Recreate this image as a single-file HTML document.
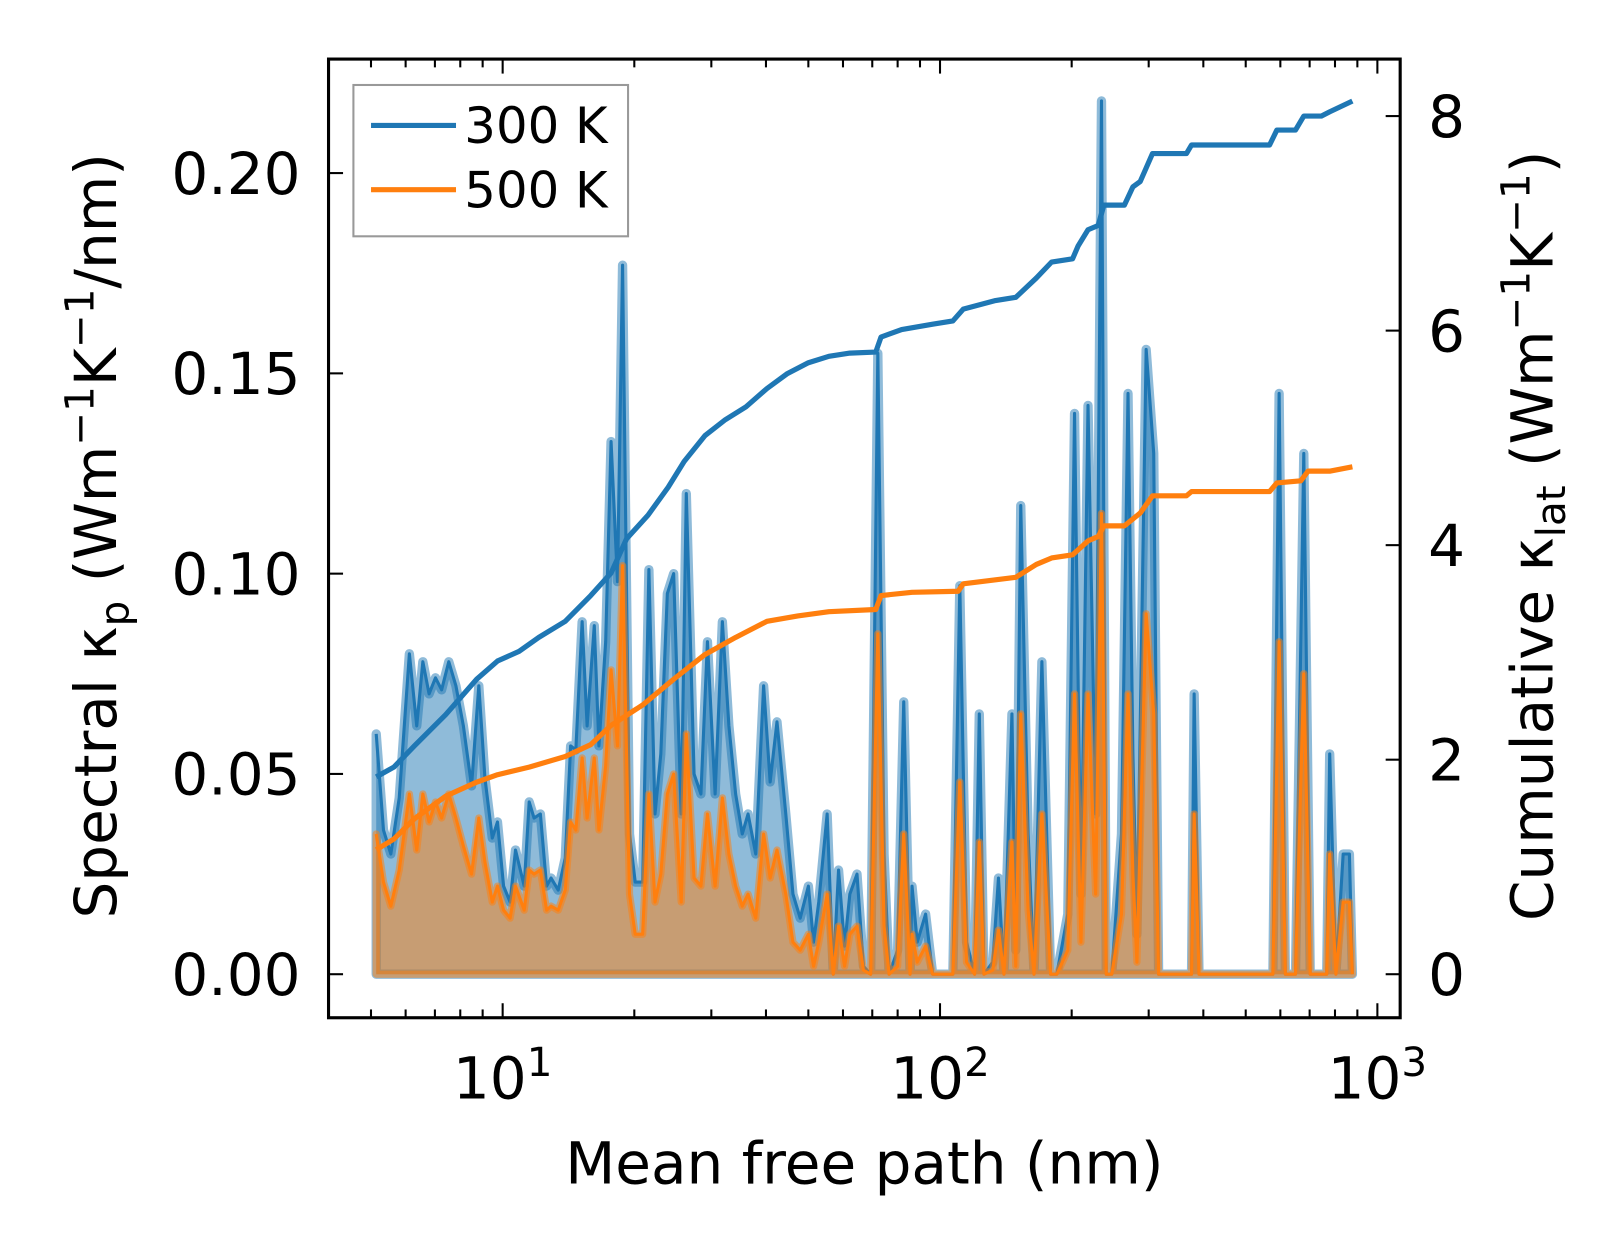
<!DOCTYPE html>
<html><head><meta charset="utf-8"><style>
body{margin:0;background:#fff}
svg{display:block;font-family:"DejaVu Sans","Liberation Sans",sans-serif}
</style></head><body>
<svg id="chart" width="1623" height="1254" viewBox="0 0 1623 1254" xmlns="http://www.w3.org/2000/svg">
<rect width="1623" height="1254" fill="#fff"/>
<g id="plot" transform="scale(1.0364)"></g>
</svg>
<script>
const mfp = [5.14,5.34,5.55,5.80,6.12,6.36,6.57,6.79,7.02,7.25,7.53,7.82,8.13,8.49,8.82,9.11,9.47,9.73,10.05,10.4,10.7,11.2,11.5,11.8,12.2,12.6,12.9,13.4,13.9,14.3,14.7,15.2,15.6,16.2,16.6,17.2,17.7,18.3,18.8,19.5,20.1,20.9,21.6,22.3,23.0,23.8,24.6,25.6,26.3,27.4,28.4,29.4,30.6,31.8,32.9,34.1,35.3,36.4,37.9,39.5,40.9,42.4,44.4,46.1,47.9,50.0,51.4,52.8,55.2,57.0,58.6,60.5,62.2,64.6,66.8,69.4,72.1,74.5,76.5,80.0,82.6,85.4,86.3,88.7,92.7,96.2,107,111,115,120,123,126,132,136,140,146,149,153,159,164,171,179,185,196,203,210,218,227,234,240,247,260,269,276,282,296,308,316,338,376,381,391,420,552,577,596,616,650,679,702,766,778,804,835,863,877];
const spec300 = [0.060,0.036,0.030,0.044,0.080,0.062,0.078,0.070,0.074,0.071,0.078,0.072,0.062,0.047,0.072,0.049,0.034,0.038,0.022,0.018,0.031,0.022,0.043,0.039,0.040,0.022,0.024,0.021,0.029,0.057,0.056,0.088,0.062,0.087,0.057,0.083,0.133,0.098,0.177,0.035,0.023,0.023,0.101,0.040,0.055,0.095,0.100,0.040,0.120,0.050,0.045,0.083,0.045,0.088,0.062,0.045,0.035,0.040,0.030,0.072,0.048,0.063,0.040,0.020,0.014,0.022,0.008,0.018,0.040,0.000,0.026,0.007,0.020,0.025,0.002,0.000,0.155,0.030,0.000,0.006,0.068,0.000,0.022,0.008,0.015,0.000,0.000,0.097,0.008,0.000,0.065,0.000,0.003,0.024,0.000,0.065,0.006,0.117,0.035,0.000,0.078,0.000,0.000,0.015,0.140,0.020,0.142,0.040,0.218,0.000,0.000,0.035,0.145,0.055,0.010,0.156,0.130,0.000,0.000,0.000,0.070,0.000,0.000,0.000,0.000,0.145,0.000,0.000,0.130,0.000,0.000,0.055,0.000,0.030,0.030,0.000];
const spec500 = [0.035,0.023,0.017,0.026,0.045,0.031,0.045,0.038,0.043,0.039,0.045,0.039,0.032,0.025,0.039,0.028,0.018,0.022,0.016,0.014,0.022,0.016,0.026,0.025,0.026,0.016,0.017,0.016,0.021,0.038,0.036,0.054,0.039,0.054,0.036,0.052,0.076,0.057,0.102,0.020,0.010,0.010,0.045,0.018,0.025,0.045,0.050,0.018,0.060,0.024,0.022,0.040,0.022,0.044,0.030,0.022,0.017,0.020,0.014,0.035,0.024,0.031,0.020,0.008,0.006,0.010,0.002,0.008,0.020,0.000,0.012,0.002,0.010,0.012,0.001,0.000,0.085,0.012,0.000,0.002,0.035,0.000,0.010,0.003,0.007,0.000,0.000,0.048,0.003,0.000,0.033,0.000,0.001,0.011,0.000,0.033,0.002,0.065,0.016,0.000,0.040,0.000,0.000,0.006,0.070,0.008,0.070,0.020,0.115,0.000,0.000,0.015,0.070,0.025,0.003,0.090,0.065,0.000,0.000,0.000,0.040,0.000,0.000,0.000,0.000,0.083,0.000,0.000,0.075,0.000,0.000,0.030,0.000,0.018,0.018,0.000];
const cumX300 = [5.14,5.64,6.29,7.41,8.72,9.73,10.9,12.1,13.9,15.9,17.7,19.2,21.5,23.9,26.0,29.0,32.3,36.0,40.2,44.8,50.0,55.7,62.2,71.3,73.3,81.7,96.2,107,113,134,149,166,180,201,207,218,230,237,264,276,287,306,366,376,567,589,650,679,745,778,877];
const cum300 = [1.84,1.93,2.13,2.42,2.75,2.92,3.01,3.14,3.29,3.53,3.74,4.06,4.28,4.54,4.78,5.02,5.17,5.29,5.46,5.60,5.70,5.76,5.79,5.80,5.94,6.01,6.06,6.09,6.20,6.28,6.31,6.49,6.64,6.67,6.79,6.94,6.98,7.17,7.17,7.34,7.39,7.65,7.65,7.73,7.73,7.87,7.87,8.00,8.00,8.04,8.14];
const cumX500 = [5.14,5.64,6.29,7.41,8.72,9.73,11.5,13.9,15.9,17.7,20.9,24.6,29.0,34.1,40.2,47.3,55.7,71.3,73.3,86.3,110,113,149,166,180,201,218,230,237,264,287,306,366,376,567,589,668,694,778,877];
const cum500 = [1.16,1.26,1.45,1.66,1.79,1.86,1.93,2.03,2.14,2.32,2.51,2.75,2.98,3.14,3.29,3.34,3.38,3.40,3.53,3.56,3.57,3.64,3.70,3.82,3.88,3.91,4.04,4.08,4.18,4.18,4.30,4.46,4.46,4.50,4.50,4.58,4.60,4.69,4.69,4.73];
const xTicks = [10,100,1000];
const yTicksL = [0,0.05,0.10,0.15,0.20];
const yTickLabelsL = ["0.00","0.05","0.10","0.15","0.20"];
const yTicksR = [0,2,4,6,8];

const L=317,R=1351,T=57,B=982;
const X = v => 485 + (Math.log10(v)-1)*422;
const YL = v => 940 - v*3865;
const YR = v => 940 - v*103.5;
const NS="http://www.w3.org/2000/svg";
const g=document.getElementById('plot');
function mk(tag,attrs,parent){const e=document.createElementNS(NS,tag);for(const k in attrs)e.setAttribute(k,attrs[k]);(parent||g).appendChild(e);return e;}
const defs=mk('defs',{});
const cp=mk('clipPath',{id:'clip'},defs);mk('rect',{x:L,y:T,width:R-L,height:B-T},cp);
const area=mk('g',{'clip-path':'url(#clip)'});

function linePts(xs,ys,fy){return xs.map((x,i)=>X(x).toFixed(1)+','+fy(ys[i]).toFixed(1)).join(' ');}
function areaPts(xs,ys){return X(xs[0]).toFixed(1)+','+YL(0)+' '+linePts(xs,ys,YL)+' '+X(xs[xs.length-1]).toFixed(1)+','+YL(0);}

let e;
e=mk('polygon',{points:areaPts(mfp,spec300),fill:'#1f77b4','fill-opacity':0.5,stroke:'#1f77b4','stroke-opacity':0.5,'stroke-width':9,'stroke-linejoin':'round'},area);

e=mk('polyline',{points:linePts(mfp,spec300,YL),fill:'none',stroke:'#1f77b4','stroke-width':3,'stroke-linejoin':'round'},area);

e=mk('polygon',{points:areaPts(mfp,spec500),fill:'#ff7f0e','fill-opacity':0.5,stroke:'#ff7f0e','stroke-opacity':0.5,'stroke-width':7,'stroke-linejoin':'round'},area);

e=mk('polyline',{points:linePts(mfp,spec500,YL),fill:'none',stroke:'#ff7f0e','stroke-width':3,'stroke-linejoin':'round'},area);

e=mk('polyline',{points:linePts(cumX300,cum300,YR),fill:'none',stroke:'#1f77b4','stroke-width':5,'stroke-linejoin':'round'},area);

e=mk('polyline',{points:linePts(cumX500,cum500,YR),fill:'none',stroke:'#ff7f0e','stroke-width':5,'stroke-linejoin':'round'},area);


e=mk('rect',{x:L,y:T,width:R-L,height:B-T,fill:'none',stroke:'#000','stroke-width':3});


const fs=56;
for(let d=0; d<4; d++){const base=Math.pow(10,d);
  for(let m=1;m<10;m++){const v=base*m; const px=X(v); if(px<L||px>R)continue;
    const len = m===1?14:8;
    mk('line',{x1:px,y1:B,x2:px,y2:B-len,stroke:'#000','stroke-width':2});
    mk('line',{x1:px,y1:T,x2:px,y2:T+len,stroke:'#000','stroke-width':2});
  }}
xTicks.forEach(v=>{const px=X(v);const exp=Math.round(Math.log10(v));
  e=mk('text',{x:px,y:1060,'font-size':fs,'text-anchor':'middle'});
  
  e.innerHTML='10<tspan dy="-22" font-size="39">'+exp+'</tspan>';});
yTicksL.forEach((v,i)=>{const py=YL(v);
  mk('line',{x1:L,y1:py,x2:L+14,y2:py,stroke:'#000','stroke-width':2});
  e=mk('text',{x:290,y:py+20,'font-size':fs,'text-anchor':'end'});
  
  e.textContent=yTickLabelsL[i];});
yTicksR.forEach(v=>{const py=YR(v);
  mk('line',{x1:R,y1:py,x2:R-14,y2:py,stroke:'#000','stroke-width':2});
  e=mk('text',{x:1378,y:py+20,'font-size':fs,'text-anchor':'start'});
  
  e.textContent=String(v);});

e=mk('text',{x:834,y:1142,'font-size':56,'text-anchor':'middle'});

e.textContent='Mean free path (nm)';
e=mk('text',{x:0,y:0,'font-size':56,'text-anchor':'middle',transform:'translate(112,517) rotate(-90)'});

e.innerHTML='Spectral κ<tspan dy="12" font-size="39">p</tspan><tspan dy="-12"> (Wm</tspan><tspan dy="-22" font-size="39">−1</tspan><tspan dy="22">K</tspan><tspan dy="-22" font-size="39">−1</tspan><tspan dy="22">/nm)</tspan>';
e=mk('text',{x:0,y:0,'font-size':56,'text-anchor':'middle',transform:'translate(1498,517) rotate(-90)'});

e.innerHTML='Cumulative κ<tspan dy="12" font-size="39">lat</tspan><tspan dy="-12"> (Wm</tspan><tspan dy="-22" font-size="39">−1</tspan><tspan dy="22">K</tspan><tspan dy="-22" font-size="39">−1</tspan><tspan dy="22">)</tspan>';

const lg=mk('g',{});

mk('rect',{x:341,y:82,width:265,height:146,fill:'#fff','fill-opacity':0.8,stroke:'#999','stroke-width':2},lg);
[['300 K','#1f77b4',121],['500 K','#ff7f0e',183]].forEach(([t,c,y])=>{
  const it=mk('g',{},lg);
  
  mk('line',{x1:358,y1:y,x2:440,y2:y,stroke:c,'stroke-width':5},it);
  const tx=mk('text',{x:448,y:y+17,'font-size':48},it);tx.textContent=t;});
</script>
</body></html>
